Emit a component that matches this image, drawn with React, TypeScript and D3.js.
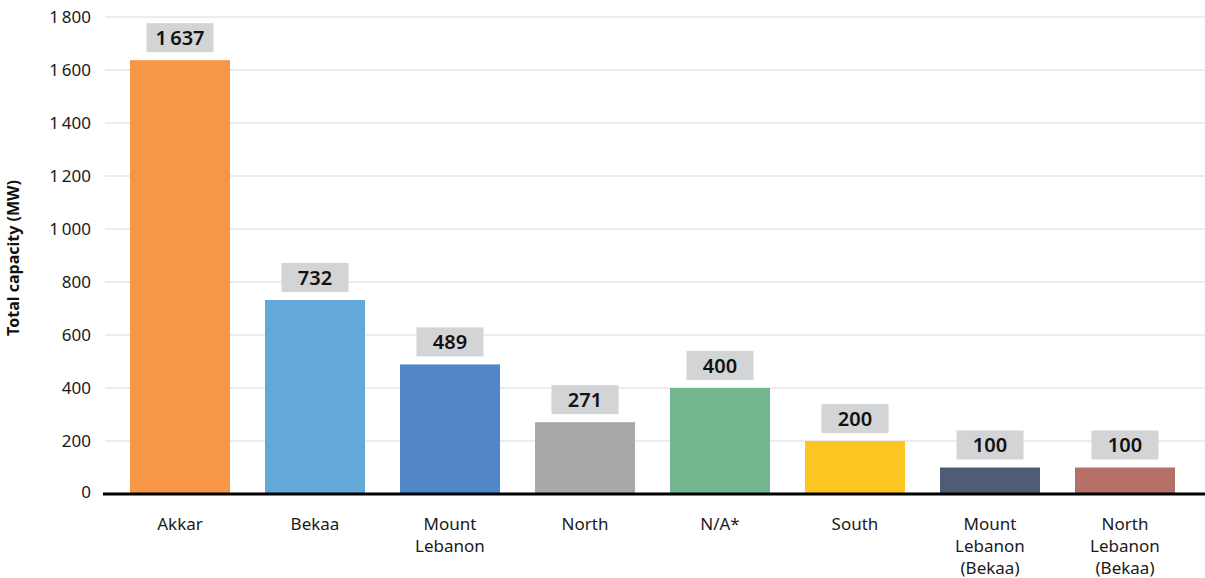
import React from 'react';
import * as d3 from 'd3';

const regions = [
  'Akkar',
  'Bekaa',
  'Mount Lebanon',
  'North',
  'N/A*',
  'South',
  'Mount Lebanon (Bekaa)',
  'North Lebanon (Bekaa)',
];
const regionLines = [
  ['Akkar'],
  ['Bekaa'],
  ['Mount', 'Lebanon'],
  ['North'],
  ['N/A*'],
  ['South'],
  ['Mount', 'Lebanon', '(Bekaa)'],
  ['North', 'Lebanon', '(Bekaa)'],
];
const capacity = [1637, 732, 489, 271, 400, 200, 100, 100];
const barColors = ['#f79646', '#62a8d9', '#5186c7', '#a6a8a9', '#72b78f', '#fcc522', '#4e5d75', '#b57068'];
const yTicks = [0, 200, 400, 600, 800, 1000, 1200, 1400, 1600, 1800];

const W = 1205;
const H = 578;
const font = "'Noto Sans', sans-serif";

const locale = d3.formatLocale({ decimal: '.', thousands: '\u2009', grouping: [3], currency: ['', ''] });
const fmt = locale.format(',d');

export default function App() {
  const x = d3
    .scaleBand<string>()
    .domain(regions)
    .range([112.5, 1192.5])
    .paddingInner(35 / 135)
    .paddingOuter(17.5 / 135);

  const y = d3.scaleLinear().domain([0, 1800]).range([494, 17]);

  return (
    <svg width={W} height={H} style={{ position: 'absolute', left: 0, top: 0 }}>
      <rect width={W} height={H} fill="#fff" />
      {/* grid */}
      {yTicks.map((t) => (
        <g key={t}>
          {t > 0 && <line x1={105} x2={W} y1={y(t)} y2={y(t)} stroke="#d9d9d9" strokeWidth={1} />}
          <text
            x={91}
            y={y(t) - (t === 0 ? 2 : 0)}
            dy="0.35em"
            textAnchor="end"
            fontFamily={font}
            fontSize={17}
            fill="#1a1a1a"
          >
            {fmt(t)}
          </text>
        </g>
      ))}
      <text
        transform={`translate(19, 258) rotate(-90)`}
        textAnchor="middle"
        fontFamily={font}
        fontSize={16}
        fontWeight="bold"
        fill="#111"
      >
        Total capacity (MW)
      </text>
      {/* bars */}
      {regions.map((r, i) => {
        const bx = x(r) as number;
        const bw = x.bandwidth();
        const top = y(capacity[i]);
        const cx = bx + bw / 2;
        return (
          <g key={r}>
            <rect x={bx} y={top} width={bw} height={y(0) - top} fill={barColors[i]} />
            <rect x={cx - 33.5} y={top - 37} width={67} height={29} fill="#d3d4d6" />
            <text
              x={cx}
              y={top - 22.5}
              dy="0.36em"
              textAnchor="middle"
              fontFamily={font}
              fontSize={20}
              fontWeight={600}
              fill="#111"
            >
              {fmt(capacity[i])}
            </text>
            {regionLines[i].map((ln, j) => (
              <text
                key={j}
                x={cx}
                y={524 + j * 22}
                dy="0.35em"
                textAnchor="middle"
                fontFamily={font}
                fontSize={17}
                fill="#1a1a1a"
              >
                {ln}
              </text>
            ))}
          </g>
        );
      })}
      <line x1={103} x2={W} y1={y(0)} y2={y(0)} stroke="#000" strokeWidth={3} />
    </svg>
  );
}
